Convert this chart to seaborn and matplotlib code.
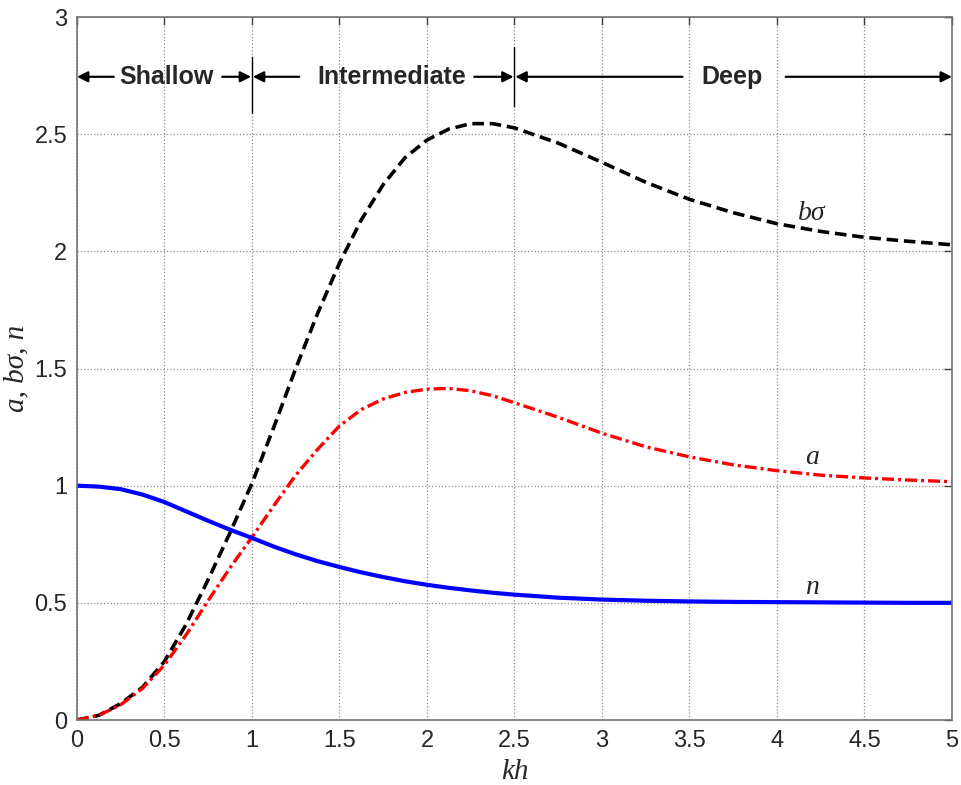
import numpy as np
import seaborn as sns
import matplotlib.pyplot as plt

# values
kh = [0, 0.125, 0.25, 0.375, 0.5, 0.625, 0.75, 0.875, 1.0, 1.125, 1.25, 1.375,
      1.5, 1.625, 1.75, 1.875, 2.0, 2.125, 2.25, 2.375, 2.5,
      2.75, 3.0, 3.25, 3.5, 3.75, 4.0, 4.25, 4.5, 4.75, 5.0]
n_vals = [1.0, 0.996, 0.985, 0.962, 0.93, 0.89, 0.85, 0.812, 0.777, 0.74, 0.707, 0.678,
          0.653, 0.63, 0.61, 0.592, 0.577, 0.564, 0.553, 0.543, 0.535,
          0.522, 0.514, 0.509, 0.506, 0.504, 0.503, 0.502, 0.501, 0.5, 0.5]
a_vals = [0, 0.02, 0.065, 0.135, 0.235, 0.365, 0.51, 0.65, 0.78, 0.915, 1.045, 1.155,
          1.255, 1.325, 1.37, 1.398, 1.412, 1.415, 1.405, 1.384, 1.354,
          1.292, 1.224, 1.166, 1.123, 1.089, 1.064, 1.045, 1.033, 1.024, 1.017]
bs_vals = [0, 0.02, 0.07, 0.14, 0.25, 0.41, 0.60, 0.80, 1.01, 1.25, 1.50, 1.735,
           1.95, 2.135, 2.285, 2.40, 2.475, 2.522, 2.545, 2.545, 2.527,
           2.462, 2.38, 2.295, 2.222, 2.165, 2.118, 2.085, 2.06, 2.043, 2.028]

regions = ['Shallow', 'Intermediate', 'Deep']

sns.set_style('white')
plt.rcParams['font.family'] = ['Liberation Sans', 'DejaVu Sans']

fig = plt.figure(figsize=(9.61, 7.85), dpi=100)
ax = fig.add_axes([0.0801, 0.0828, 0.9105, 0.8955])

sns.lineplot(x=kh, y=bs_vals, ax=ax, color='black', lw=2.6)
ax.lines[-1].set_dashes((3.2, 1.6))
sns.lineplot(x=kh, y=a_vals, ax=ax, color='red', lw=2.4)
ax.lines[-1].set_dashes((3.6, 1.2, 0.9, 1.2))
sns.lineplot(x=kh, y=n_vals, ax=ax, color='blue', lw=3)

ax.set_xlim(0, 5)
ax.set_ylim(0, 3)
ax.set_xticks(np.arange(0, 5.01, 0.5))
ax.set_yticks(np.arange(0, 3.01, 0.5))
ax.set_xticklabels(['0', '0.5', '1', '1.5', '2', '2.5', '3', '3.5', '4', '4.5', '5'])
ax.set_yticklabels(['0', '0.5', '1', '1.5', '2', '2.5', '3'])
ax.tick_params(direction='in', length=6, width=1, top=True, right=True,
               labelsize=17, color='0.25', pad=7)
ax.grid(True, linestyle=':', color='0.55', linewidth=0.9)
for sp in ax.spines.values():
    sp.set_color('0.45')
    sp.set_linewidth(1.2)

serif = ['Liberation Serif', 'DejaVu Serif']
ax.set_xlabel('kh', family=serif, style='italic', fontsize=21, labelpad=5)
ax.set_ylabel('a, b\u03c3, n', family=serif, style='italic', fontsize=21, labelpad=4)

# curve labels
ax.text(4.2, 2.163, 'b\u03c3', family=serif, style='italic', fontsize=20, ha='center', va='center')
ax.text(4.2, 1.122, 'a', family=serif, style='italic', fontsize=20, ha='center', va='center')
ax.text(4.2, 0.567, 'n', family=serif, style='italic', fontsize=20, ha='center', va='center')

# water-depth regions
y_arr = 2.745
arrow_kw = dict(arrowstyle='-|>', color='black', lw=1.6, mutation_scale=16,
                shrinkA=0, shrinkB=0)
segments = [
    (0.21, 0.0), (0.83, 0.995),
    (1.27, 1.005), (2.27, 2.495),
    (3.46, 2.505), (4.05, 5.0),
]
for x0, x1 in segments:
    ax.annotate('', xy=(x1, y_arr), xytext=(x0, y_arr), arrowprops=arrow_kw)
text_x = [0.51, 1.80, 3.745]
for name, tx in zip(regions, text_x):
    ax.text(tx, y_arr, name, fontsize=18, fontweight='bold', ha='center', va='center')
ax.plot([1, 1], [2.59, 2.83], color='black', lw=1)
ax.plot([2.5, 2.5], [2.62, 2.87], color='black', lw=1)

fig.savefig('out.png', dpi=100)
